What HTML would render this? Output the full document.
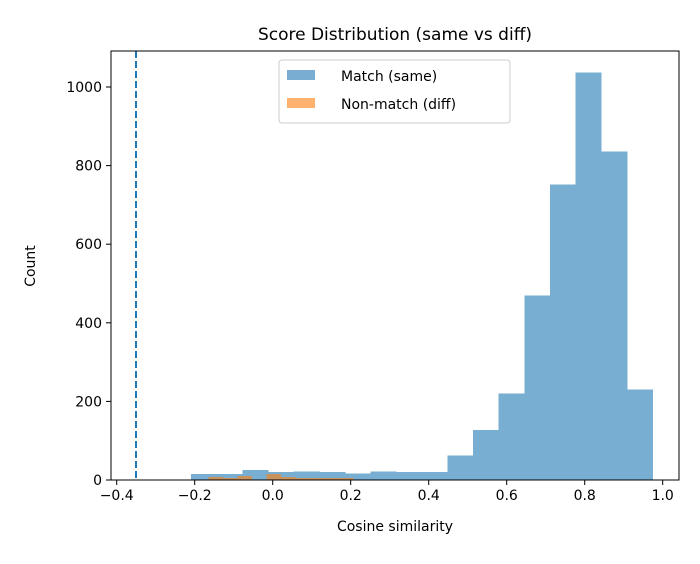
<!DOCTYPE html>
<html><head><meta charset="utf-8"><style>
body{margin:0;background:#fff;font-family:"DejaVu Sans","Liberation Sans",sans-serif;}
svg text{font-family:"DejaVu Sans","Liberation Sans",sans-serif;fill:#000}
</style></head><body>
<svg id="chart" width="700" height="560" xmlns="http://www.w3.org/2000/svg">
<text x="395" y="40" font-size="17" text-anchor="middle">Score Distribution (same vs diff)</text>
<g id="marks" shape-rendering="crispEdges"></g>
<rect x="111" y="51" width="568" height="429" fill="none" stroke="#000" stroke-width="1"/>
<g id="axes"></g>
<text x="395" y="531" font-size="14" text-anchor="middle">Cosine similarity</text>
<text transform="translate(35,266) rotate(-90)" font-size="14" text-anchor="middle">Count</text>
<g>
<rect x="279" y="60" width="231" height="63" rx="3" fill="#fff" fill-opacity="0.8" stroke="#ccc"/>
<rect x="287" y="70" width="28" height="10" fill="#1f77b4" fill-opacity="0.6"/>
<text x="341" y="81" font-size="14">Match (same)</text>
<rect x="287" y="98" width="28" height="10" fill="#ff7f0e" fill-opacity="0.6"/>
<text x="341" y="109" font-size="14">Non-match (diff)</text>
</g>
</svg>
<script>
const matchStart = -0.209, matchWidth = 0.0657;
const matchCounts = [15,15,25,20,22,20,17,22,20,20,62,127,220,470,752,1037,836,230];
const diffStart = -0.165, diffWidth = 0.0372;
const diffCounts = [8,5,10,0,15,7,5,5,5,5];
const thresholdValue = -0.35;
const xTicks = [-0.4,-0.2,0.0,0.2,0.4,0.6,0.8,1.0];
const xTickLabels = ["−0.4","−0.2","0.0","0.2","0.4","0.6","0.8","1.0"];
const yTicks = [0,200,400,600,800,1000];

const NS="http://www.w3.org/2000/svg";
const X = v => 272.7 + v*390;
const Y = v => 480 - v*0.393;
const marks=document.getElementById('marks'), axes=document.getElementById('axes');
function mk(tag,attrs,parent){const e=document.createElementNS(NS,tag);for(const k in attrs)e.setAttribute(k,attrs[k]);parent.appendChild(e);return e;}
matchCounts.forEach((c,i)=>{
  const x0=X(matchStart+i*matchWidth), x1=X(matchStart+(i+1)*matchWidth);
  const r=mk('rect',{x:x0,y:Y(c),width:x1-x0+0.5,height:480-Y(c),fill:'#78aed2'},marks);
  
  
});
diffCounts.forEach((c,i)=>{
  const x0=X(diffStart+i*diffWidth), x1=X(diffStart+(i+1)*diffWidth);
  const r=mk('rect',{x:x0,y:Y(c),width:x1-x0,height:480-Y(c),fill:'#ff7f0e','fill-opacity':0.6},marks);
  
  
});
const th=mk('line',{x1:X(thresholdValue),x2:X(thresholdValue),y1:51,y2:480,stroke:'#1f77b4','stroke-width':2,'stroke-dasharray':'7,3'},marks);


xTicks.forEach((t,i)=>{
  const x=X(t);
  const l=mk('line',{x1:x,x2:x,y1:480,y2:485,stroke:'#000'},axes);
  
  
  const tx=mk('text',{x:x,y:500,'font-size':14,'text-anchor':'middle'},axes);
  tx.textContent=xTickLabels[i];
  
  
});
yTicks.forEach(t=>{
  const y=Y(t);
  const l=mk('line',{x1:106,x2:111,y1:y,y2:y,stroke:'#000'},axes);
  
  
  const tx=mk('text',{x:102,y:y+5,'font-size':14,'text-anchor':'end'},axes);
  tx.textContent=String(t);
  
  
});
</script>
</body></html>
